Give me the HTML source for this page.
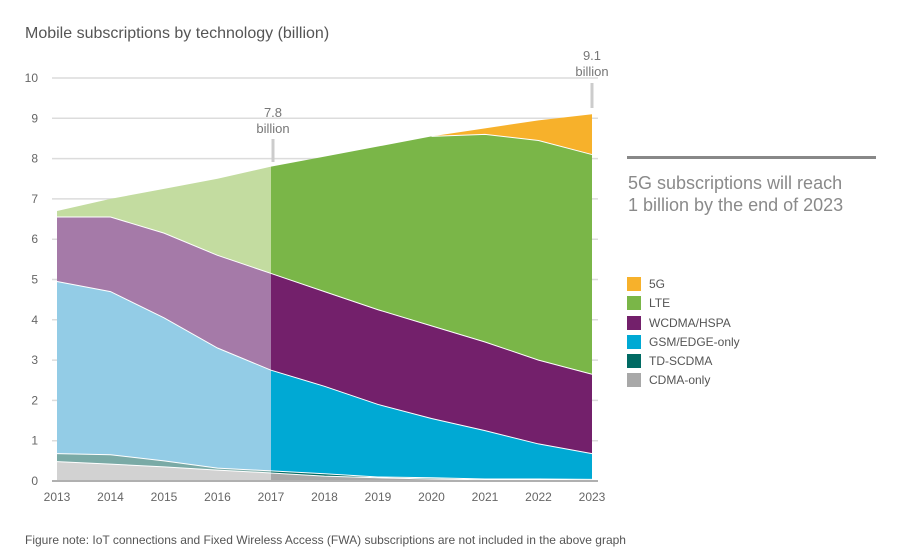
<!DOCTYPE html>
<html><head><meta charset="utf-8"><style>
body{margin:0;background:#fff;width:900px;height:548px;overflow:hidden;font-family:"Liberation Sans",sans-serif}
svg{position:absolute;left:0;top:0}
</style></head><body>
<svg id="s" width="900" height="548" xmlns="http://www.w3.org/2000/svg" font-family="Liberation Sans, sans-serif">
<text x="25" y="38" font-size="16" fill="#555">Mobile subscriptions by technology (billion)</text>
<g id="grid" stroke="#dcdcdc" stroke-width="1.5"></g>
<g id="areas"></g>
<g id="lines" fill="none" stroke="#fff" stroke-width="1"></g>
<line x1="52" y1="481" x2="598" y2="481" stroke="#b0b0b0" stroke-width="2"/>
<g id="ylab" font-size="12" fill="#666" text-anchor="end"></g>
<g id="xlab" font-size="12" fill="#666" text-anchor="middle"></g>
<text x="273" y="117" font-size="13" fill="#777" text-anchor="middle">7.8</text>
<text x="273" y="133" font-size="13" fill="#777" text-anchor="middle">billion</text>
<line x1="273" y1="139" x2="273" y2="162" stroke="#ccc" stroke-width="3"/>
<text x="592" y="60" font-size="13" fill="#777" text-anchor="middle">9.1</text>
<text x="592" y="76" font-size="13" fill="#777" text-anchor="middle">billion</text>
<line x1="592" y1="83" x2="592" y2="108" stroke="#ccc" stroke-width="3"/>
<line x1="627" y1="157.5" x2="876" y2="157.5" stroke="#888" stroke-width="3"/>
<text x="628" y="189" font-size="18" fill="#8a8a8a">5G subscriptions will reach</text>
<text x="628" y="211" font-size="18" fill="#8a8a8a">1 billion by the end of 2023</text>
<g font-size="12" fill="#555">
<rect x="627" y="277" width="14" height="14" fill="#f7b12b"/><text x="649" y="288">5G</text>
<rect x="627" y="296" width="14" height="14" fill="#7ab648"/><text x="649" y="307">LTE</text>
<rect x="627" y="316" width="14" height="14" fill="#73206b"/><text x="649" y="327">WCDMA/HSPA</text>
<rect x="627" y="335" width="14" height="14" fill="#00a9d4"/><text x="649" y="346">GSM/EDGE-only</text>
<rect x="627" y="354" width="14" height="14" fill="#006a63"/><text x="649" y="365">TD-SCDMA</text>
<rect x="627" y="373" width="14" height="14" fill="#a8a8a8"/><text x="649" y="384">CDMA-only</text>
</g>
<text x="25" y="544" font-size="12" fill="#555">Figure note: IoT connections and Fixed Wireless Access (FWA) subscriptions are not included in the above graph</text>
</svg>
<script>
var NS="http://www.w3.org/2000/svg";
function X(i){return 57+i*53.5}
function Y(v){return 481-v*40.3}
var g=document.getElementById('grid'),yl=document.getElementById('ylab'),xl=document.getElementById('xlab');
for(var v=1;v<=10;v++){var l=document.createElementNS(NS,'line');l.setAttribute('x1',52);l.setAttribute('x2',598);l.setAttribute('y1',Y(v));l.setAttribute('y2',Y(v));g.appendChild(l);}
for(var v=0;v<=10;v++){var t=document.createElementNS(NS,'text');t.setAttribute('x',38);t.setAttribute('y',Y(v)+4);t.textContent=v;yl.appendChild(t);}
for(var i=0;i<=10;i++){var t=document.createElementNS(NS,'text');t.setAttribute('x',X(i));t.setAttribute('y',501);t.textContent=2013+i;xl.appendChild(t);}
var tot=[6.7,7.0,7.25,7.5,7.8,8.05,8.3,8.55,8.75,8.95,9.1];
var lte=[6.7,7.0,7.25,7.5,7.8,8.05,8.3,8.55,8.6,8.45,8.1];
var wc=[6.55,6.55,6.15,5.6,5.15,4.7,4.25,3.85,3.45,3.0,2.65];
var gsm=[4.95,4.7,4.05,3.3,2.75,2.35,1.9,1.55,1.25,0.92,0.68];
var td=[0.68,0.65,0.5,0.32,0.25,0.18,0.1,0.08,0.05,0.05,0.04];
var cd=[0.48,0.42,0.35,0.27,0.2,0.12,0.08,0.05,0.03,0.03,0.02];
var zero=[0,0,0,0,0,0,0,0,0,0,0];
var layers=[[tot,lte,'#f7b12b','#f7b12b'],[lte,wc,'#7ab648','#c3dca0'],[wc,gsm,'#73206b','#a57aa8'],[gsm,td,'#00a9d4','#93cce6'],[td,cd,'#006a63','#7aaaa6'],[cd,zero,'#a8a8a8','#d2d2d2']];
var a=document.getElementById('areas'),ln=document.getElementById('lines');
function poly(top,bot,i0,i1,col){var p=[];for(var i=i0;i<=i1;i++)p.push(X(i)+','+Y(top[i]));for(var i=i1;i>=i0;i--)p.push(X(i)+','+Y(bot[i]));var e=document.createElementNS(NS,'polygon');e.setAttribute('points',p.join(' '));e.setAttribute('fill',col);a.appendChild(e);}
layers.forEach(function(L){poly(L[0],L[1],0,4,L[3]);poly(L[0],L[1],4,10,L[2]);});
[lte,wc,gsm,td,cd].forEach(function(s,k){var p=[];for(var i=(k==0?7:0);i<=10;i++)p.push(X(i)+','+Y(s[i]));var e=document.createElementNS(NS,'polyline');e.setAttribute('points',p.join(' '));ln.appendChild(e);});
</script>
</body></html>
